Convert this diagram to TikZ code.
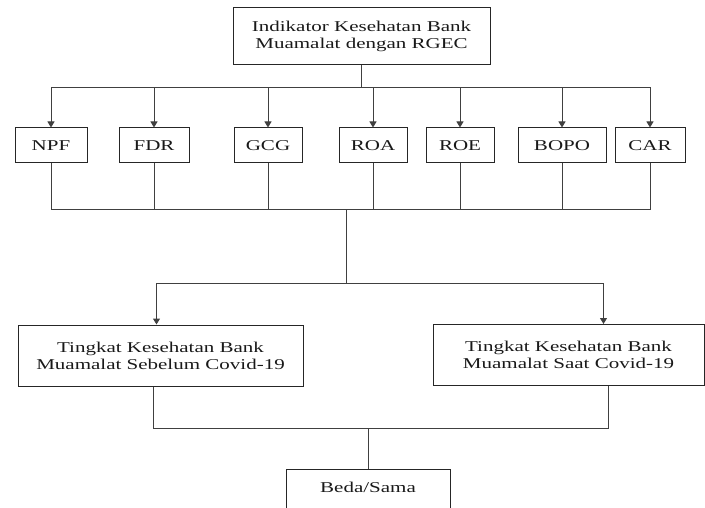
\documentclass[tikz,border=0pt]{standalone}
\usepackage{fontspec}
\setmainfont{Liberation Serif}[FakeStretch=1.4]
\usetikzlibrary{arrows.meta}

\begin{document}
\begin{tikzpicture}[x=1pt,y=-1pt,
    kotak/.style={draw=black!85,line width=1pt,inner sep=0pt,align=center,
                  font=\fontsize{15}{17}\selectfont,text=black!90},
    garis/.style={draw=black!75,line width=1pt},
    panah/.style={garis,-{Triangle[length=6pt,width=7pt]}}]
        \clip (0,0) rectangle (705,508);
        % Kotak atas
        \node[kotak,minimum width=257,minimum height=57] (indikator) at (361.5,36.5)
             {Indikator Kesehatan Bank\\Muamalat dengan RGEC};
        % Tujuh indikator
        \node[kotak,minimum width=72,minimum height=35] (npf)  at (51,145.5)  {NPF};
        \node[kotak,minimum width=70,minimum height=35] (fdr)  at (154,145.5) {FDR};
        \node[kotak,minimum width=68,minimum height=35] (gcg)  at (268,145.5) {GCG};
        \node[kotak,minimum width=68,minimum height=35] (roa)  at (373,145.5) {ROA};
        \node[kotak,minimum width=68,minimum height=35] (roe)  at (460,145.5) {ROE};
        \node[kotak,minimum width=88,minimum height=35] (bopo) at (562,145.5) {BOPO};
        \node[kotak,minimum width=70,minimum height=35] (car)  at (650,145.5) {CAR};
        % Dua kondisi
        \node[kotak,minimum width=285,minimum height=61] (sebelum) at (160.5,355.5)
             {Tingkat Kesehatan Bank\\Muamalat Sebelum Covid-19};
        \node[kotak,minimum width=271,minimum height=61] (saat) at (568.5,355)
             {Tingkat Kesehatan Bank\\Muamalat Saat Covid-19};
        % Hasil (terpotong di bawah)
        \node[kotak,anchor=north,minimum width=164,text height=10.5pt,text depth=30pt,
              inner ysep=12pt] (beda) at (368,469) {Beda/Sama};
        % Titik cabang
        \coordinate (cabang) at (361.5,88);
        \coordinate (gab)    at (346,210);
        \coordinate (pisah)  at (346,283);
        \coordinate (gabung) at (368,428);
        % Garis penghubung
        \draw[garis] (indikator) -- (cabang);
        \foreach \n in {npf,fdr,gcg,roa,roe,bopo,car}{
            \draw[panah] (cabang) -| (\n);
            \draw[garis] (\n) |- (gab);
        }
        \draw[garis] (gab) -- (pisah);
        \draw[panah] (pisah) -| ([xshift=-4pt]sebelum.north);
        \draw[panah] (pisah) -| ([xshift=35pt]saat.north);
        \draw[garis] ([xshift=-7pt]sebelum.south) |- (gabung);
        \draw[garis] ([xshift=40pt]saat.south) |- (gabung);
        \draw[garis] (gabung) -- (beda);
\end{tikzpicture}
\end{document}
